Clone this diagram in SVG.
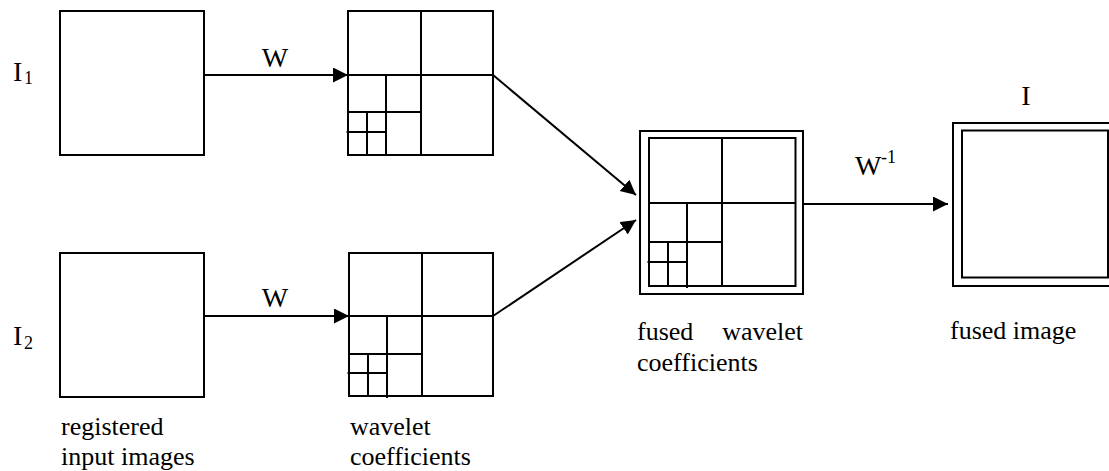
<svg xmlns="http://www.w3.org/2000/svg" width="1109" height="471" viewBox="0 0 1109 471">
<style>
.box{fill:none;stroke:#000;stroke-width:2}
.ln{stroke:#000;stroke-width:2;fill:none}
.conn{stroke:#000;stroke-width:2;fill:none;marker-end:url(#ah)}
text{font-family:"Liberation Serif","Times New Roman",serif;fill:#000}
.sym{font-size:28px}
.lab{font-size:26px}
.sub{font-size:18px}
</style>
<defs>
<marker id="ah" markerUnits="userSpaceOnUse" markerWidth="16" markerHeight="16" refX="15" refY="7.5" orient="auto">
<path d="M0,0 L15,7.5 L0,15 z" fill="#000"/>
</marker>
</defs>
<rect width="1109" height="471" fill="#fff"/>
<g id="input1">
<rect class="box" x="60" y="11" width="144" height="144"/>
<text class="sym" x="13" y="80.5">I<tspan class="sub" x="24" y="84">1</tspan></text>
</g>
<g id="input2">
<rect class="box" x="60" y="253" width="144" height="144"/>
<text class="sym" x="13" y="345">I<tspan class="sub" x="24" y="348.5">2</tspan></text>
<text class="lab" x="61" y="435">registered</text>
<text class="lab" x="61" y="465">input images</text>
</g>
<g id="wavelet1">
<rect class="box" x="348" y="11" width="145" height="144"/>
<path class="ln" d="M421,11V155M348,75H493M386,75V156M348,112H421M367,112V156M346.5,132H386"/>
</g>
<g id="wavelet2">
<rect class="box" x="349" y="253" width="144" height="143"/>
<path class="ln" d="M422,253V396M349,316H493M387,316V398M349,354H422M368,354V397M347.5,373H387"/>
<text class="lab" x="350" y="435">wavelet</text>
<text class="lab" x="350" y="465">coefficients</text>
</g>
<g id="fused">
<rect class="box" x="640" y="131" width="163" height="163"/>
<rect class="box" x="649" y="138" width="146.5" height="148"/>
<path class="ln" d="M722,138V286M649,203H795.5M687,203V288M649,242H722M668,242V286M647.5,262H687"/>
<text class="lab" x="637" y="340">fused</text>
<text class="lab" x="803" y="340" text-anchor="end">wavelet</text>
<text class="lab" x="637" y="371">coefficients</text>
</g>
<g id="output">
<rect class="box" x="953" y="123" width="200" height="163"/>
<rect class="box" x="962" y="130.5" width="146" height="147"/>
<text class="sym" x="1026" y="105" text-anchor="middle">I</text>
<text class="lab" x="950" y="339">fused image</text>
</g>
<g id="connectors">
<line class="conn" x1="204" y1="75" x2="348" y2="75"/>
<line class="conn" x1="204" y1="316" x2="349" y2="316"/>
<line class="conn" x1="493" y1="75" x2="636" y2="195"/>
<line class="conn" x1="493" y1="316" x2="636" y2="220"/>
<line class="conn" x1="803" y1="204" x2="948" y2="204"/>
<text class="sym" x="275" y="67" text-anchor="middle">W</text>
<text class="sym" x="275" y="307" text-anchor="middle">W</text>
<text class="sym" x="855" y="175">W<tspan class="sub" x="881" y="163">-1</tspan></text>
</g>
</svg>
